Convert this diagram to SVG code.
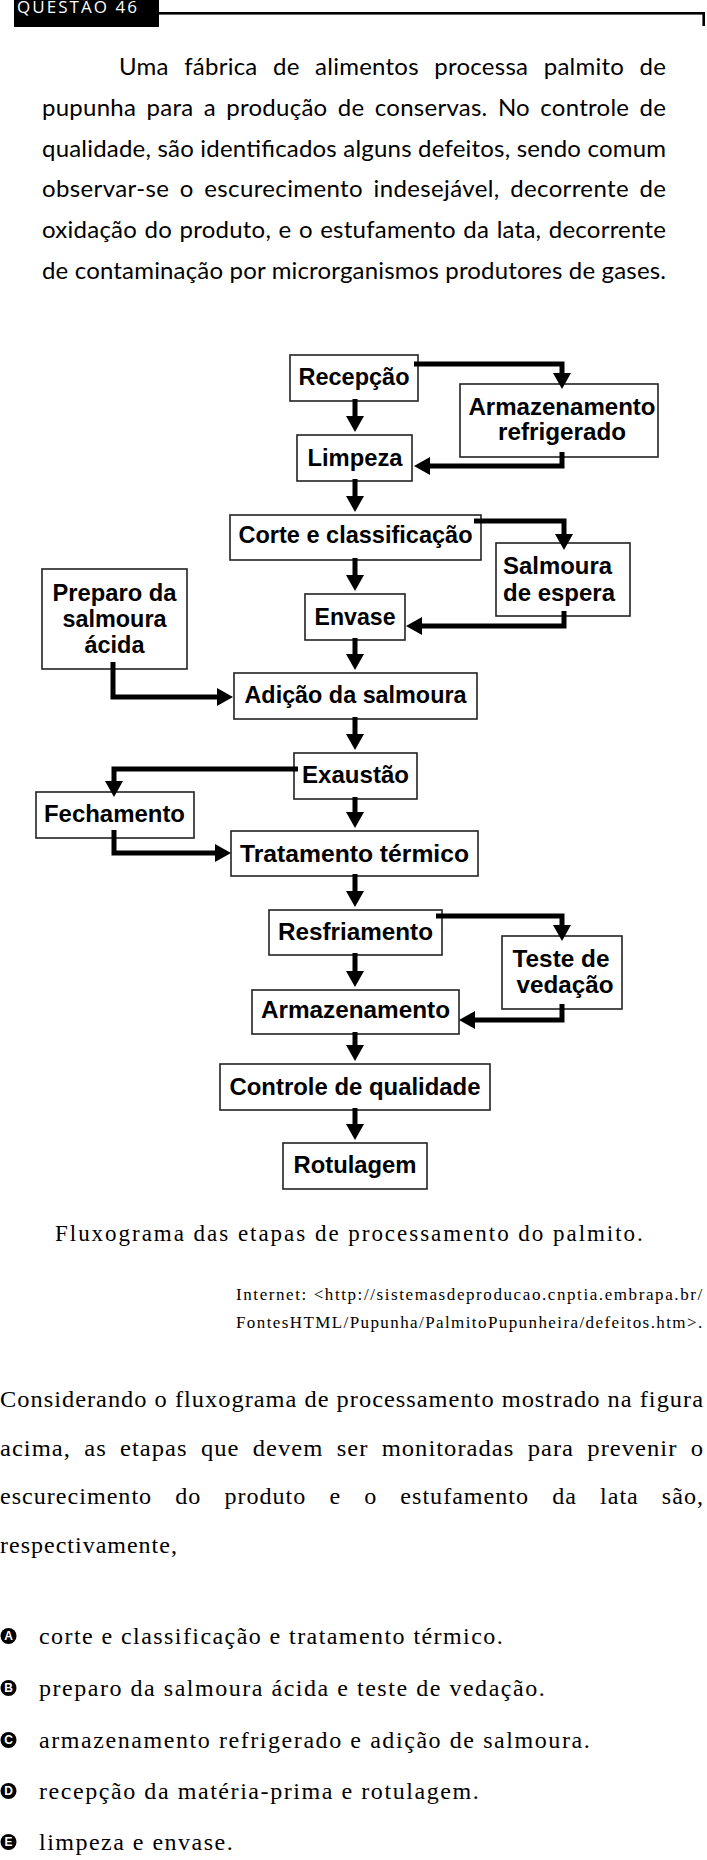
<svg xmlns="http://www.w3.org/2000/svg" xmlns:xlink="http://www.w3.org/1999/xlink" width="707" height="1860" viewBox="0 0 707 1860">
<style>
.box{fill:#fff;stroke:#222;stroke-width:1.6}
.lbl{font-family:"Liberation Sans",Arial,sans-serif;font-weight:bold;font-size:24px;fill:#000;text-anchor:middle}
.ln{fill:none;stroke:#000;stroke-width:5;stroke-linejoin:miter}
.hd{fill:#000}
.p1{font-family:Lato,"Open Sans",sans-serif;font-size:24px;fill:#000}
.sr{font-family:"Liberation Serif","Times New Roman",serif;font-size:24px;fill:#000;letter-spacing:1px}
.cap{font-family:"Liberation Serif","Times New Roman",serif;font-size:23px;fill:#000;letter-spacing:1.2px}
.op{font-family:"Liberation Serif","Times New Roman",serif;font-size:24px;fill:#000;letter-spacing:1.3px}
.cit{font-family:"Liberation Serif","Times New Roman",serif;font-size:17px;fill:#000;letter-spacing:1.8px}
.opt{font-family:"Liberation Sans",Arial,sans-serif;font-weight:bold;font-size:12px;fill:#fff;text-anchor:middle}
</style>
<defs>
<path id="ah" d="M-9,-16 L9,-16 L0,0 Z"/>
</defs>
<rect width="707" height="1860" fill="#fff"/>

<g id="header">
<rect x="14" y="0" width="145" height="27" fill="#000"/>
<text x="17" y="12.5" style="font-family:'Open Sans',sans-serif;font-size:17px;fill:#fff;letter-spacing:2px" textLength="122" lengthAdjust="spacing">QUESTÃO 46</text>
<rect x="158" y="12" width="547" height="2.6" fill="#000"/>
<rect x="702.4" y="12" width="2.6" height="14" fill="#000"/>
</g>

<g id="intro">
<text class="p1" x="119" y="75" word-spacing="9" textLength="547" lengthAdjust="spacing">Uma fábrica de alimentos processa palmito de</text>
<text class="p1" x="42" y="115.8" word-spacing="4" textLength="624" lengthAdjust="spacing">pupunha para a produção de conservas. No controle de</text>
<text class="p1" x="42" y="156.6" word-spacing="0" textLength="624" lengthAdjust="spacing">qualidade, são identificados alguns defeitos, sendo comum</text>
<text class="p1" x="42" y="197.4" word-spacing="4" textLength="624" lengthAdjust="spacing">observar-se o escurecimento indesejável, decorrente de</text>
<text class="p1" x="42" y="238.2" word-spacing="1" textLength="624" lengthAdjust="spacing">oxidação do produto, e o estufamento da lata, decorrente</text>
<text class="p1" x="42" y="279" textLength="624" lengthAdjust="spacing">de contaminação por microrganismos produtores de gases.</text>
</g>

<g id="n-recepcao"><rect class="box" x="290" y="355" width="128" height="46"/><text class="lbl" x="354" y="385" textLength="111" lengthAdjust="spacingAndGlyphs">Recepção</text></g>
<g id="n-armaz-refrig"><rect class="box" x="460" y="384" width="198" height="73"/><text class="lbl" x="562" y="415" textLength="187" lengthAdjust="spacingAndGlyphs">Armazenamento</text><text class="lbl" x="562" y="440" textLength="128" lengthAdjust="spacingAndGlyphs">refrigerado</text></g>
<g id="n-limpeza"><rect class="box" x="297" y="435" width="115" height="46"/><text class="lbl" x="355" y="466" textLength="95" lengthAdjust="spacingAndGlyphs">Limpeza</text></g>
<g id="n-corte"><rect class="box" x="230" y="515" width="251" height="45"/><text class="lbl" x="355.5" y="543" textLength="234" lengthAdjust="spacingAndGlyphs">Corte e classificação</text></g>
<g id="n-salmoura-espera"><rect class="box" x="496" y="543" width="134" height="73"/><text class="lbl" x="503" y="574" style="text-anchor:start" textLength="109" lengthAdjust="spacingAndGlyphs">Salmoura</text><text class="lbl" x="503" y="601" style="text-anchor:start" textLength="112" lengthAdjust="spacingAndGlyphs">de espera</text></g>
<g id="n-preparo"><rect class="box" x="42" y="569" width="145" height="100"/><text class="lbl" x="114.5" y="601" textLength="124" lengthAdjust="spacingAndGlyphs">Preparo da</text><text class="lbl" x="114.5" y="627" textLength="104" lengthAdjust="spacingAndGlyphs">salmoura</text><text class="lbl" x="114.5" y="653" textLength="60" lengthAdjust="spacingAndGlyphs">ácida</text></g>
<g id="n-envase"><rect class="box" x="305" y="594" width="100" height="46"/><text class="lbl" x="355" y="625" textLength="81" lengthAdjust="spacingAndGlyphs">Envase</text></g>
<g id="n-adicao"><rect class="box" x="234" y="673" width="243" height="46"/><text class="lbl" x="355.5" y="703" textLength="222" lengthAdjust="spacingAndGlyphs">Adição da salmoura</text></g>
<g id="n-exaustao"><rect class="box" x="294" y="753" width="123" height="46"/><text class="lbl" x="355.5" y="783" textLength="107" lengthAdjust="spacingAndGlyphs">Exaustão</text></g>
<g id="n-fechamento"><rect class="box" x="36" y="792" width="158" height="46"/><text class="lbl" x="114.5" y="822" textLength="141" lengthAdjust="spacingAndGlyphs">Fechamento</text></g>
<g id="n-tratamento"><rect class="box" x="231" y="831" width="247" height="45"/><text class="lbl" x="354.5" y="862" textLength="229" lengthAdjust="spacingAndGlyphs">Tratamento térmico</text></g>
<g id="n-resfriamento"><rect class="box" x="269" y="910" width="173" height="45"/><text class="lbl" x="355.5" y="940" textLength="155" lengthAdjust="spacingAndGlyphs">Resfriamento</text></g>
<g id="n-teste"><rect class="box" x="502" y="936" width="120" height="73"/><text class="lbl" x="561" y="967" textLength="97" lengthAdjust="spacingAndGlyphs">Teste de</text><text class="lbl" x="565" y="993" textLength="97" lengthAdjust="spacingAndGlyphs">vedação</text></g>
<g id="n-armazenamento"><rect class="box" x="252" y="990" width="207" height="44"/><text class="lbl" x="355.5" y="1018" textLength="189" lengthAdjust="spacingAndGlyphs">Armazenamento</text></g>
<g id="n-controle"><rect class="box" x="220" y="1064" width="270" height="46"/><text class="lbl" x="355" y="1095" textLength="251" lengthAdjust="spacingAndGlyphs">Controle de qualidade</text></g>
<g id="n-rotulagem"><rect class="box" x="283" y="1143" width="144" height="46"/><text class="lbl" x="355" y="1173" textLength="123" lengthAdjust="spacingAndGlyphs">Rotulagem</text></g>

<g id="connectors">
<path class="ln" d="M355 399V417M355 479V497M355 558V576M355 638V655M355 717V735M355 797V813M355 874V892M355 953V972M355 1032V1046M355 1108V1125"/>
<use href="#ah" class="hd" x="355" y="432"/>
<use href="#ah" class="hd" x="355" y="512"/>
<use href="#ah" class="hd" x="355" y="591"/>
<use href="#ah" class="hd" x="355" y="670"/>
<use href="#ah" class="hd" x="355" y="750"/>
<use href="#ah" class="hd" x="355" y="828"/>
<use href="#ah" class="hd" x="355" y="907"/>
<use href="#ah" class="hd" x="355" y="987"/>
<use href="#ah" class="hd" x="355" y="1061"/>
<use href="#ah" class="hd" x="355" y="1140"/>

<path class="ln" d="M414 364H562V375"/>
<use href="#ah" class="hd" transform="translate(562,389)"/>
<path class="ln" d="M562 452V466H430"/>
<use href="#ah" class="hd" transform="translate(414,466) rotate(90)"/>

<path class="ln" d="M474 521H564V536"/>
<use href="#ah" class="hd" transform="translate(564,550)"/>
<path class="ln" d="M564 611V626H421"/>
<use href="#ah" class="hd" transform="translate(406,626) rotate(90)"/>

<path class="ln" d="M113 662V697H217"/>
<use href="#ah" class="hd" transform="translate(233,697) rotate(-90)"/>

<path class="ln" d="M298 769H114V783"/>
<use href="#ah" class="hd" transform="translate(114,797)"/>
<path class="ln" d="M114 830V853H215"/>
<use href="#ah" class="hd" transform="translate(231,853) rotate(-90)"/>

<path class="ln" d="M436 916H562V927"/>
<use href="#ah" class="hd" transform="translate(562,941)"/>
<path class="ln" d="M562 1004V1020H474"/>
<use href="#ah" class="hd" transform="translate(459,1020) rotate(90)"/>
</g>

<g id="caption">
<text class="cap" x="55" y="1241" textLength="589" lengthAdjust="spacing">Fluxograma das etapas de processamento do palmito.</text>
<text class="cit" x="236" y="1300" textLength="468" lengthAdjust="spacing">Internet: &lt;http://sistemasdeproducao.cnptia.embrapa.br/</text>
<text class="cit" x="236" y="1328" textLength="468" lengthAdjust="spacing">FontesHTML/Pupunha/PalmitoPupunheira/defeitos.htm&gt;.</text>
</g>

<g id="question">
<text class="sr" x="0" y="1407" textLength="704" lengthAdjust="spacingAndGlyphs">Considerando o fluxograma de processamento mostrado na figura</text>
<text class="sr" x="0" y="1455.5" word-spacing="6" textLength="704" lengthAdjust="spacingAndGlyphs">acima, as etapas que devem ser monitoradas para prevenir o</text>
<text class="sr" x="0" y="1504" word-spacing="16" textLength="704" lengthAdjust="spacingAndGlyphs">escurecimento do produto e o estufamento da lata são,</text>
<text class="sr" x="0" y="1552.5">respectivamente,</text>
</g>

<g id="options">
<circle cx="8.5" cy="1636" r="8"/><text class="opt" x="8.5" y="1640.3">A</text>
<text class="op" x="39" y="1644" textLength="465" lengthAdjust="spacing">corte e classificação e tratamento térmico.</text>
<circle cx="8.5" cy="1688" r="8"/><text class="opt" x="8.5" y="1692.3">B</text>
<text class="op" x="39" y="1696" textLength="507" lengthAdjust="spacing">preparo da salmoura ácida e teste de vedação.</text>
<circle cx="8.5" cy="1740" r="8"/><text class="opt" x="8.5" y="1744.3">C</text>
<text class="op" x="39" y="1748" textLength="552" lengthAdjust="spacing">armazenamento refrigerado e adição de salmoura.</text>
<circle cx="8.5" cy="1791" r="8"/><text class="opt" x="8.5" y="1795.3">D</text>
<text class="op" x="39" y="1799" textLength="441" lengthAdjust="spacing">recepção da matéria-prima e rotulagem.</text>
<circle cx="8.5" cy="1842" r="8"/><text class="opt" x="8.5" y="1846.3">E</text>
<text class="op" x="39" y="1850" textLength="195" lengthAdjust="spacing">limpeza e envase.</text>
</g>
</svg>
